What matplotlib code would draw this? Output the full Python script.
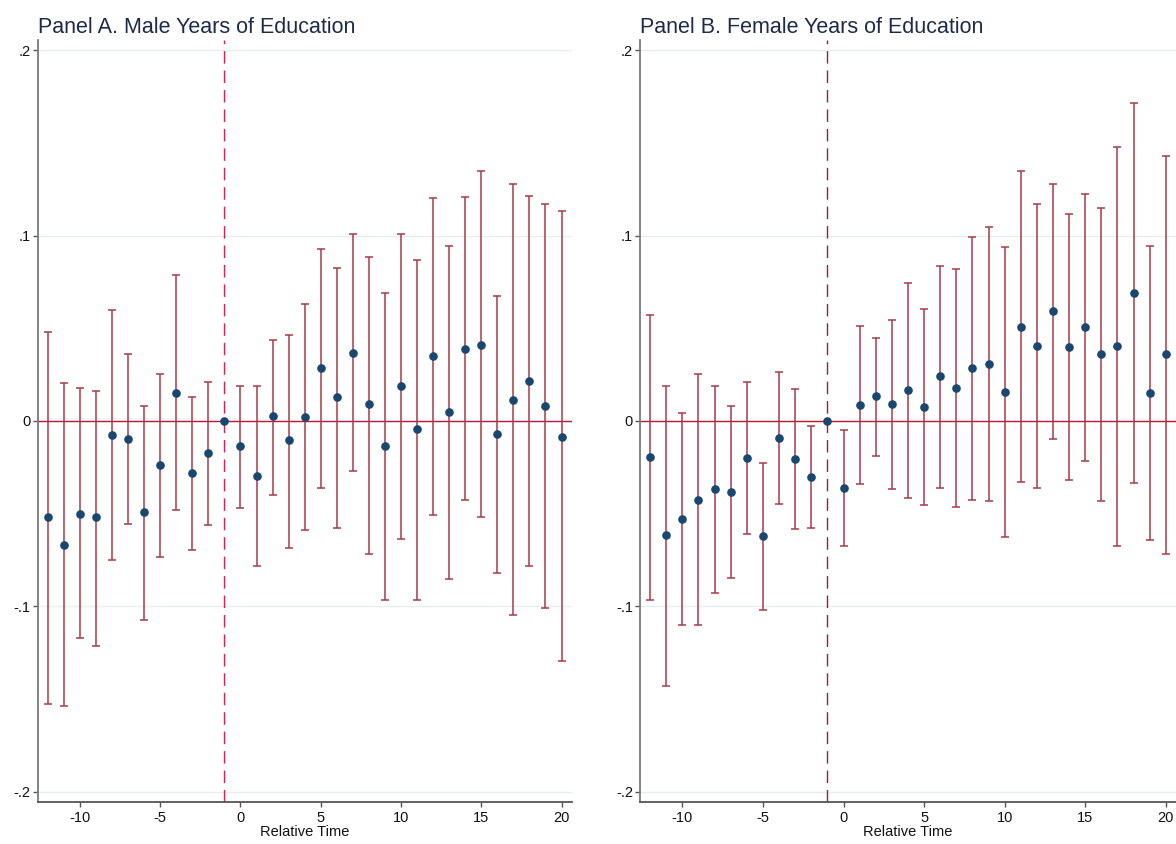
#!/usr/bin/env python3
"""Event-study plot: male / female years of education by relative time."""

import matplotlib
matplotlib.use("Agg")
import matplotlib.pyplot as plt
import numpy as np

# ---------------------------------------------------------------------------
# Data; -1 is the omitted period
# ---------------------------------------------------------------------------

rel_time = list(range(-12, 21))

male_coef = [-0.052, -0.067, -0.050, -0.052, -0.0074, -0.0096, -0.049, -0.024,
             0.0153, -0.028, -0.017, 0.0, -0.0135, -0.0295, 0.0025, -0.0105,
             0.0023, 0.0286, 0.0127, 0.0369, 0.0092, -0.0135, 0.0189, -0.0043,
             0.0349, 0.005, 0.039, 0.041, -0.0069, 0.0111, 0.0214, 0.0081,
             -0.0085]
male_hi = [0.0482, 0.0203, 0.0178, 0.016, 0.0599, 0.0362, 0.0081, 0.0254,
           0.0786, 0.013, 0.0212, np.nan, 0.019, 0.0187, 0.0439, 0.0464,
           0.0629, 0.0926, 0.0826, 0.1011, 0.0883, 0.0691, 0.1011, 0.0869,
           0.1202, 0.0946, 0.1207, 0.1346, 0.0676, 0.1276, 0.1213, 0.117,
           0.1133]
male_lo = [-0.1527, -0.1538, -0.1173, -0.1216, -0.075, -0.0556, -0.1071,
           -0.0736, -0.0482, -0.0695, -0.0561, np.nan, -0.0468, -0.0781,
           -0.0399, -0.0684, -0.0587, -0.036, -0.0576, -0.0272, -0.0716,
           -0.0968, -0.0637, -0.0968, -0.0509, -0.0855, -0.0426, -0.052,
           -0.0819, -0.1045, -0.0781, -0.1009, -0.1297]

female_coef = [-0.0193, -0.0615, -0.0527, -0.0425, -0.0367, -0.0383, -0.0198,
               -0.0621, -0.009, -0.0203, -0.0301, 0.0, -0.0362, 0.0086, 0.0133,
               0.0092, 0.0169, 0.0077, 0.024, 0.0179, 0.0287, 0.0308, 0.0158,
               0.0508, 0.0406, 0.0595, 0.04, 0.0508, 0.036, 0.0406, 0.0693,
               0.0153, 0.036]
female_hi = [0.0572, 0.0187, 0.0041, 0.0254, 0.0187, 0.0079, 0.0212, -0.0227,
             0.0262, 0.0173, -0.0029, np.nan, -0.0051, 0.0511, 0.0448, 0.0547,
             0.0743, 0.0604, 0.0836, 0.082, 0.099, 0.1048, 0.094, 0.1346,
             0.117, 0.1279, 0.1119, 0.1227, 0.115, 0.148, 0.1717, 0.0944,
             0.143]
female_lo = [-0.0964, -0.1427, -0.1103, -0.1103, -0.0927, -0.0849, -0.0608,
             -0.102, -0.0448, -0.0581, -0.0577, np.nan, -0.0675, -0.034,
             -0.0191, -0.0365, -0.0415, -0.0454, -0.0359, -0.0463, -0.0427,
             -0.0432, -0.0627, -0.0328, -0.0359, -0.0097, -0.0319, -0.0216,
             -0.0432, -0.0677, -0.0334, -0.0643, -0.0719]

panel_titles = ["Panel A. Male Years of Education",
                "Panel B. Female Years of Education"]
x_ticks = [-10, -5, 0, 5, 10, 15, 20]
y_ticks = [-0.2, -0.1, 0.0, 0.1, 0.2]
y_ticklabels = ["-.2", "-.1", "0", ".1", ".2"]
omitted_period = -1

# ---------------------------------------------------------------------------
# Style
# ---------------------------------------------------------------------------

FONT = ["Liberation Sans", "DejaVu Sans"]
MARKER_COLOR = "#1a476f"
BAR_COLOR = "#a83a48"
ZERO_COLOR = "#c01838"
VLINE_COLORS = ["#d8204a", "#a81838"]
GRID_COLOR = "#e6eeef"
TITLE_COLOR = "#1e2b48"


def draw_panel(ax, title, coef, lo, hi, vline_color):
    x = np.array(rel_time, dtype=float)
    coef = np.array(coef)
    lo = np.array(lo)
    hi = np.array(hi)
    has_ci = ~np.isnan(lo)

    ax.axhline(0, color=ZERO_COLOR, lw=1.0, zorder=2)
    ax.axvline(omitted_period, color=vline_color, lw=1.0,
               dashes=(9, 5), zorder=2)

    yerr = np.vstack([coef[has_ci] - lo[has_ci], hi[has_ci] - coef[has_ci]])
    ax.errorbar(x[has_ci], coef[has_ci], yerr=yerr, fmt="none",
                ecolor=BAR_COLOR, elinewidth=1.1, capsize=3.0,
                capthick=1.1, zorder=3)
    ax.plot(x, coef, "o", color=MARKER_COLOR, ms=5.2, mec=MARKER_COLOR,
            zorder=4)

    ax.set_xlim(-12.63, 20.63)
    ax.set_ylim(-0.2055, 0.2055)
    ax.set_xticks(x_ticks)
    ax.set_xticklabels([str(t) for t in x_ticks])
    ax.set_yticks(y_ticks)
    ax.set_yticklabels(y_ticklabels)
    ax.yaxis.grid(True, color=GRID_COLOR, lw=1.0)
    ax.set_axisbelow(True)

    for side in ("top", "right"):
        ax.spines[side].set_visible(False)
    ax.spines["left"].set_color("#7a7a7a")
    ax.spines["left"].set_linewidth(1.3)
    ax.spines["bottom"].set_color("#555555")
    ax.spines["bottom"].set_linewidth(1.3)
    ax.tick_params(axis="both", length=3.5, width=1.0, color="#555555",
                   labelsize=10.5, labelcolor="#111111")
    ax.tick_params(axis="x", pad=3)
    ax.tick_params(axis="y", pad=1.5)

    ax.set_xlabel("Relative Time", fontsize=10.5, labelpad=0, color="#111111")
    ax.set_title(title, loc="left", fontsize=15.5, color=TITLE_COLOR, pad=5)


def main():
    plt.rcParams["font.family"] = FONT
    fig = plt.figure(figsize=(11.76, 8.44), dpi=100)
    ax_a = fig.add_axes([0.0321, 0.0498, 0.454, 0.9028])
    ax_b = fig.add_axes([0.5442, 0.0498, 0.4558, 0.9028])

    draw_panel(ax_a, panel_titles[0], male_coef, male_lo, male_hi,
               VLINE_COLORS[0])
    draw_panel(ax_b, panel_titles[1], female_coef, female_lo, female_hi,
               VLINE_COLORS[1])

    fig.savefig("out.png", dpi=100, facecolor="white")


if __name__ == "__main__":
    main()
